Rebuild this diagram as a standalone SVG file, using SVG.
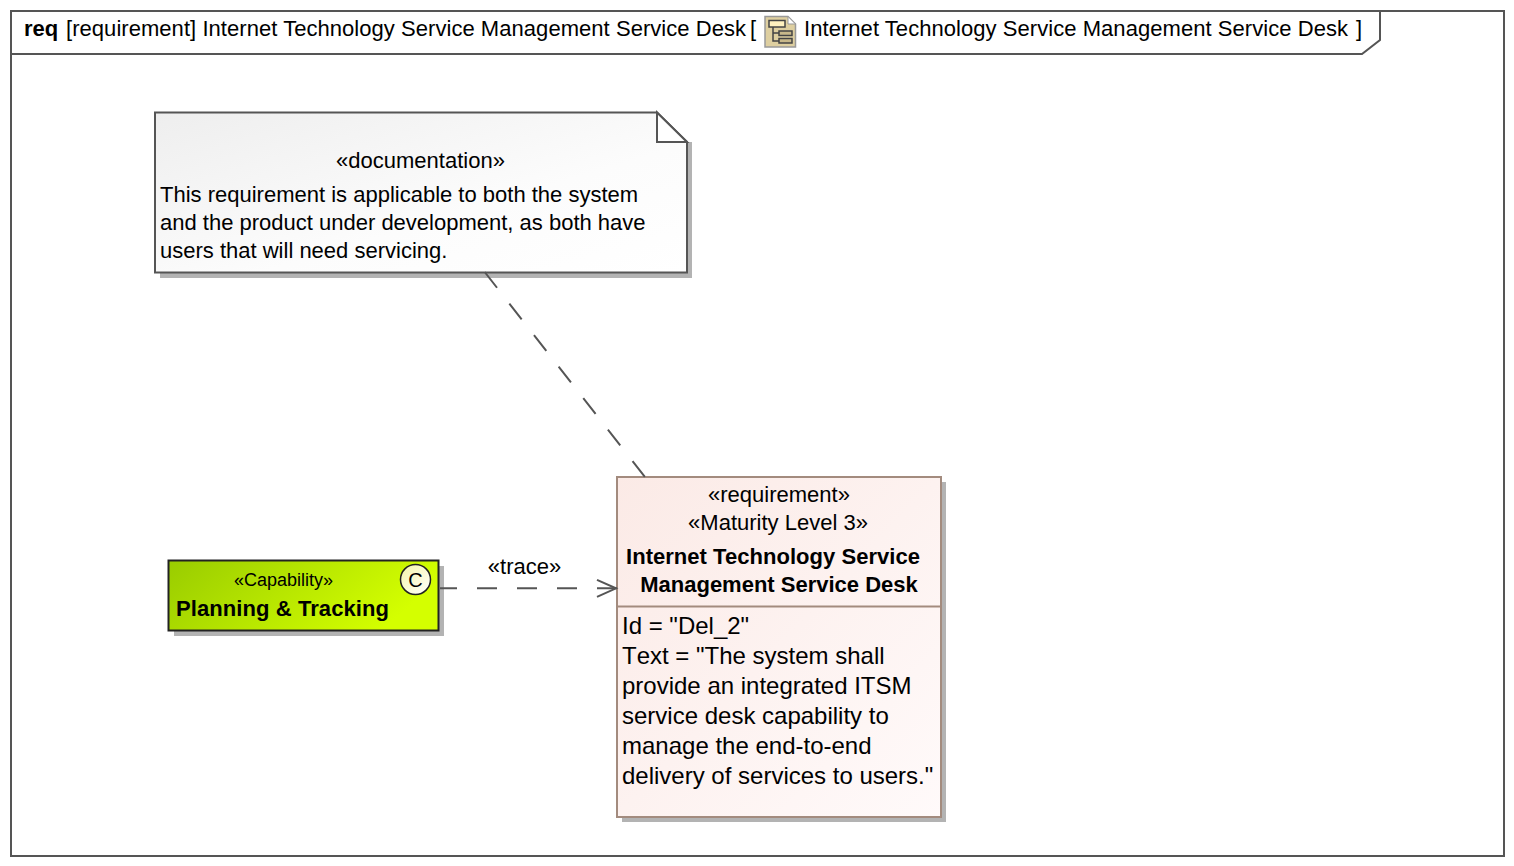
<svg xmlns="http://www.w3.org/2000/svg" width="1514" height="866" viewBox="0 0 1514 866">
<style>
text{font-family:"Liberation Sans",Arial,sans-serif;font-size:22px;fill:#000}
.b{font-weight:bold}
.m{text-anchor:middle}
.s{fill:#b3b3b3}
.attr{font-size:24px}
.frame{fill:none;stroke:#555;stroke-width:2}
.conn{fill:none;stroke:#555;stroke-width:2;stroke-dasharray:20 20}
</style>
<defs>
<linearGradient id="noteG" x1="0" y1="0" x2="1" y2="1"><stop offset="0" stop-color="#eeeeee"/><stop offset="0.6" stop-color="#fcfcfc"/><stop offset="1" stop-color="#ffffff"/></linearGradient>
<linearGradient id="capG" x1="0" y1="0" x2="1" y2="0.3"><stop offset="0" stop-color="#99cc00"/><stop offset="1" stop-color="#d4ff00"/></linearGradient>
<linearGradient id="circG" x1="0" y1="0" x2="1" y2="1"><stop offset="0" stop-color="#f5f5a8"/><stop offset="1" stop-color="#ffffff"/></linearGradient>
<linearGradient id="reqG" x1="0" y1="0" x2="1" y2="1"><stop offset="0" stop-color="#fbeae6"/><stop offset="1" stop-color="#fffafa"/></linearGradient>
<marker id="open" markerUnits="userSpaceOnUse" markerWidth="24" markerHeight="24" refX="21" refY="10" orient="auto"><path d="M1 1.500 L20 10 L1 18.500" fill="none" stroke="#555" stroke-width="2"/></marker>
</defs>
<rect width="1514" height="866" fill="#fff"/>
<g id="frame">
<rect class="frame" x="11" y="11" width="1493" height="845"/>
<path class="frame" d="M11 54 H1362 L1380 40 V11"/>
<text x="24" y="36" class="b">req</text>
<text x="66" y="36" textLength="680" lengthAdjust="spacing">[requirement] Internet Technology Service Management Service Desk</text>
<text x="750" y="36">[</text>
<g id="frame-icon">
<path d="M765 16.500 H788 L795.500 24 V47 H765 Z" fill="#decfa0" stroke="#999" stroke-width="1.500"/>
<path d="M788 16.500 V24 H795.500 Z" fill="#fff" stroke="#999" stroke-width="1"/>
<rect x="769" y="20.500" width="16" height="6.500" fill="#fff1bf" stroke="#444" stroke-width="1.500"/>
<rect x="779" y="31" width="13" height="4.500" fill="#c8b88a" stroke="#444" stroke-width="1.500"/>
<rect x="779" y="38.500" width="13" height="4.500" fill="#c8b88a" stroke="#444" stroke-width="1.500"/>
<path d="M773 27 V41 H779 M773 33 H779" fill="none" stroke="#444" stroke-width="1.500"/>
</g>
<text x="804" y="36" textLength="544" lengthAdjust="spacing">Internet Technology Service Management Service Desk</text>
<text x="1356" y="36">]</text>
</g>
<g id="note">
<path class="s" d="M687 142 H692 V278 H160 V272 H687 Z"/>
<path d="M155 112.500 H657 L687 142 V272.500 H155 Z" fill="url(#noteG)" stroke="#555" stroke-width="2"/>
<path d="M657 112.500 V142 H687 Z" fill="#fff" stroke="#555" stroke-width="2"/>
<text x="420.500" y="168" class="m">«documentation»</text>
<text x="160" y="202">This requirement is applicable to both the system</text>
<text x="160" y="230">and the product under development, as both have</text>
<text x="160" y="258">users that will need servicing.</text>
</g>
<g id="capability">
<rect class="s" x="174" y="566" width="270" height="70"/>
<rect x="168.500" y="560.500" width="270" height="70" fill="url(#capG)" stroke="#222" stroke-width="2"/>
<circle cx="415.500" cy="579.500" r="15" fill="url(#circG)" stroke="#222" stroke-width="1.500"/>
<text x="415.500" y="587" class="m" style="font-size:20px">C</text>
<text x="283.500" y="586" class="m" style="font-size:18px">«Capability»</text>
<text x="176" y="616" class="b" textLength="213" lengthAdjust="spacing">Planning &amp; Tracking</text>
</g>
<g id="requirement">
<rect x="622" y="482" width="324" height="340" fill="#b3b3b3"/>
<rect x="617" y="477" width="324" height="340" fill="url(#reqG)" stroke="#a38b7e" stroke-width="2"/>
<path d="M617 606.500 H941" stroke="#a38b7e" stroke-width="2"/>
<text x="779" y="502" class="m">«requirement»</text>
<text x="778" y="530" class="m">«Maturity Level 3»</text>
<text x="626" y="564" class="b" textLength="294" lengthAdjust="spacing">Internet Technology Service</text>
<text x="779" y="592" class="m b">Management Service Desk</text>
<text x="622" y="634" class="attr">Id = "Del_2"</text>
<text x="622" y="664" class="attr" style="font-kerning:none">Text = "The system shall</text>
<text x="622" y="694" class="attr">provide an integrated ITSM</text>
<text x="622" y="724" class="attr">service desk capability to</text>
<text x="622" y="754" class="attr">manage the end-to-end</text>
<text x="622" y="784" class="attr">delivery of services to users."</text>
</g>
<g id="connectors">
<path class="conn" d="M484.700 272 L645 477"/>
<path class="conn" style="stroke-dashoffset:3" d="M440 588.300 H617" marker-end="url(#open)"/>
<text x="524.500" y="574" class="m">«trace»</text>
</g>
</svg>
